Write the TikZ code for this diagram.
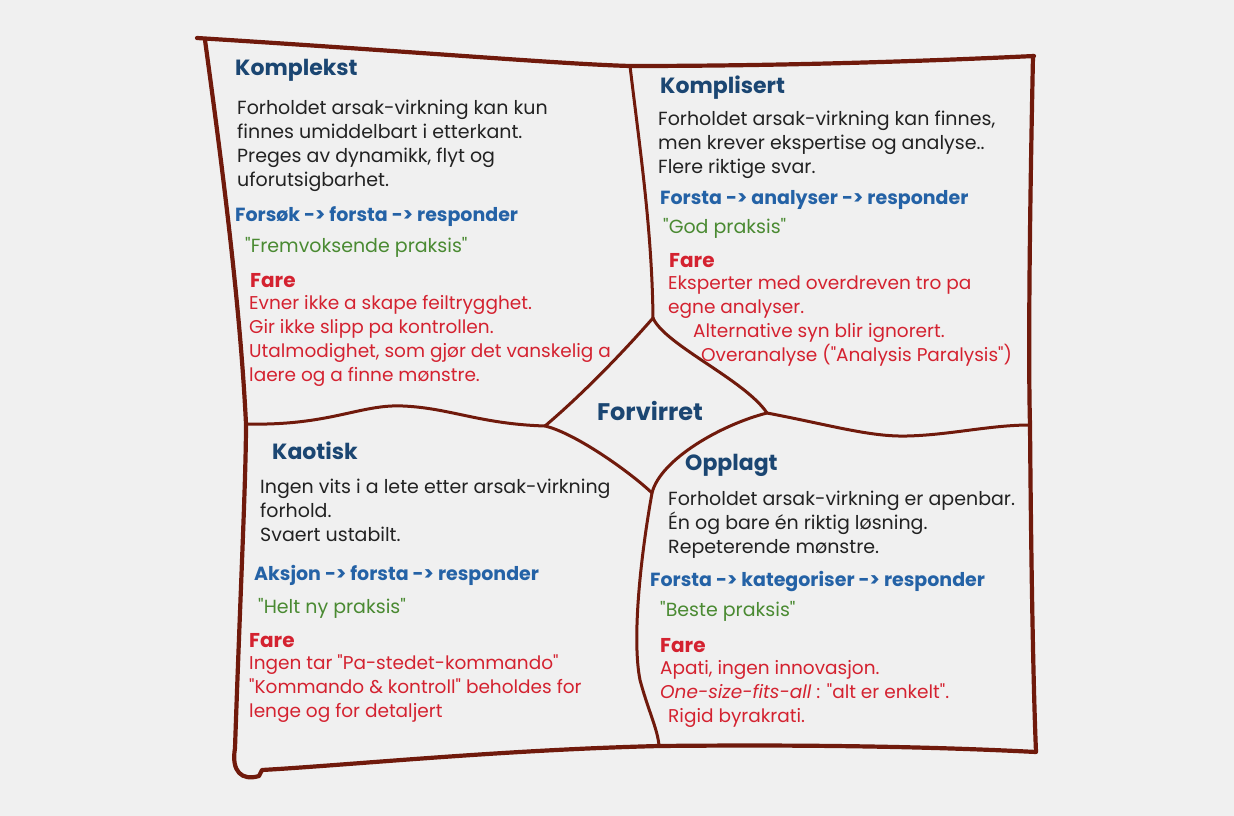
\documentclass[tikz,border=0pt]{standalone}
\usepackage{fontspec}
\setmainfont{Poppins}[Ligatures=TeXOff]

\definecolor{paper}{HTML}{F0F0F0}
\definecolor{framered}{HTML}{701A0C}
\definecolor{titleblue}{HTML}{1B4672}
\definecolor{stepblue}{HTML}{2462A6}
\definecolor{praksisgreen}{HTML}{4A8A32}
\definecolor{farered}{HTML}{D42230}
\definecolor{bodyblack}{HTML}{222222}

\begin{document}
\begin{tikzpicture}[x=1pt,y=-1pt]
        % Cynefin sketch, coordinates in pixels of the page
        \tikzstyle{frame} = [draw=framered,line width=4.2pt,line cap=round,line join=round];
        \tikzstyle{divider} = [draw=framered,line width=3pt,line cap=round,line join=round];
        \tikzstyle{title} = [anchor=west,inner sep=0pt,text=titleblue,font=\fontsize{22}{24}\selectfont\bfseries];
        \tikzstyle{body} = [anchor=west,inner sep=0pt,align=left,text=bodyblack,font=\fontsize{19}{24}\selectfont];
        \tikzstyle{steps} = [anchor=west,inner sep=0pt,text=stepblue,font=\fontsize{19}{24}\selectfont\bfseries];
        \tikzstyle{praksis} = [anchor=west,inner sep=0pt,text=praksisgreen,font=\fontsize{19}{24}\selectfont];
        \tikzstyle{fare} = [anchor=west,inner sep=0pt,text=farered,font=\fontsize{20}{24}\selectfont\bfseries];
        \tikzstyle{risk} = [anchor=west,inner sep=0pt,align=left,text=farered,font=\fontsize{18.5}{24}\selectfont];

        \fill[paper] (0,0) rectangle (1234,816);
        \useasboundingbox (0,0) rectangle (1234,816);

        % corners of the diamond in the middle
        \coordinate (left_vertex) at (545,426);
        \coordinate (top_vertex) at (653,318);
        \coordinate (right_vertex) at (767,413);
        \coordinate (bottom_vertex) at (652,493);
        \coordinate (top_mid) at (630,66);
        \coordinate (bottom_mid) at (659,746);
        \coordinate (left_mid) at (246,424);
        \coordinate (right_mid) at (1030,425);

        % outer frame
        \draw[frame] (197,38) .. controls (420,52) and (560,64) .. (top_mid)
                .. controls (800,66) and (950,60) .. (1034,56);
        \draw[frame] (1033,56) .. controls (1030,200) and (1028,350) .. (right_mid)
                .. controls (1031,550) and (1033,680) .. (1036,752)
                .. controls (900,745) and (760,745) .. (bottom_mid)
                .. controls (500,750) and (350,765) .. (262,770)
                -- (259,776) .. controls (242,781) and (231,772) .. (235,748)
                .. controls (240,600) and (246,480) .. (left_mid)
                .. controls (240,300) and (220,150) .. (205,40);

        % dividers
        \draw[divider] (top_mid) .. controls (640,150) and (652,230) .. (top_vertex);
        \draw[divider] (left_mid) .. controls (330,426) and (360,404) .. (403,406)
                .. controls (450,408) and (480,424) .. (left_vertex);
        \draw[divider] (right_vertex) .. controls (830,425) and (870,437) .. (907,436)
                .. controls (950,435) and (990,425) .. (right_mid);
        \draw[divider] (bottom_vertex) .. controls (640,560) and (632,640) .. (640,680)
                .. controls (648,710) and (658,730) .. (bottom_mid);
        \draw[divider] (left_vertex) .. controls (585,392) and (625,350) .. (top_vertex)
                .. controls (665,345) and (745,380) .. (right_vertex)
                .. controls (720,425) and (660,460) .. (bottom_vertex)
                .. controls (630,472) and (575,433) .. (left_vertex);

        % Komplekst
        \node[title] (komplekst) at (235,70) {Komplekst};
        \node[body] (komplekst_text) at (237,146) {Forholdet arsak-virkning kan kun\\finnes umiddelbart i etterkant.\\Preges av dynamikk, flyt og\\uforutsigbarhet.};
        \node[steps] (komplekst_steps) at (235,217) {Forsøk -> forsta -> responder};
        \node[praksis] (komplekst_praksis) at (245,247) {"Fremvoksende praksis"};
        \node[fare] (komplekst_fare) at (250,281) {Fare};
        \node[risk] (komplekst_risk) at (249,341) {Evner ikke a skape feiltrygghet.\\Gir ikke slipp pa kontrollen.\\Utalmodighet, som gjør det vanskelig a\\laere og a finne mønstre.};

        % Komplisert
        \node[title] (komplisert) at (660,88) {Komplisert};
        \node[body] (komplisert_text) at (658,145) {Forholdet arsak-virkning kan finnes,\\men krever ekspertise og analyse..\\Flere riktige svar.};
        \node[steps] (komplisert_steps) at (660,200) {Forsta -> analyser -> responder};
        \node[praksis] (komplisert_praksis) at (663,228) {"God praksis"};
        \node[fare] (komplisert_fare) at (669,261) {Fare};
        \node[risk] (komplisert_risk) at (668,321) {Eksperter med overdreven tro pa\\egne analyser.\\\hspace*{25pt}Alternative syn blir ignorert.\\\hspace*{33pt}Overanalyse ("Analysis Paralysis")};

        % Forvirret
        \node[title,anchor=center,font=\fontsize{24}{24}\selectfont\bfseries] (forvirret) at (650,411) {Forvirret};

        % Kaotisk
        \node[title] (kaotisk) at (272,451) {Kaotisk};
        \node[body] (kaotisk_text) at (260,510) {Ingen vits i a lete etter arsak-virkning\\forhold.\\Svaert ustabilt.};
        \node[steps] (kaotisk_steps) at (254,575) {Aksjon -> forsta -> responder};
        \node[praksis] (kaotisk_praksis) at (258,608) {"Helt ny praksis"};
        \node[fare] (kaotisk_fare) at (249,641) {Fare};
        \node[risk] (kaotisk_risk) at (249,689) {Ingen tar "Pa-stedet-kommando"\\"Kommando \& kontroll" beholdes for\\lenge og for detaljert};

        % Opplagt
        \node[title] (opplagt) at (685,465) {Opplagt};
        \node[body] (opplagt_text) at (668,525) {Forholdet arsak-virkning er apenbar.\\Én og bare én riktig løsning.\\Repeterende mønstre.};
        \node[steps] (opplagt_steps) at (650,581) {Forsta -> kategoriser -> responder};
        \node[praksis] (opplagt_praksis) at (660,611) {"Beste praksis"};
        \node[fare] (opplagt_fare) at (660,646) {Fare};
        \node[risk] (opplagt_risk) at (660,694) {Apati, ingen innovasjon.\\\textit{One-size-fits-all} : "alt er enkelt".\\\hspace*{8pt}Rigid byrakrati.};

    \end{tikzpicture}
\end{document}
